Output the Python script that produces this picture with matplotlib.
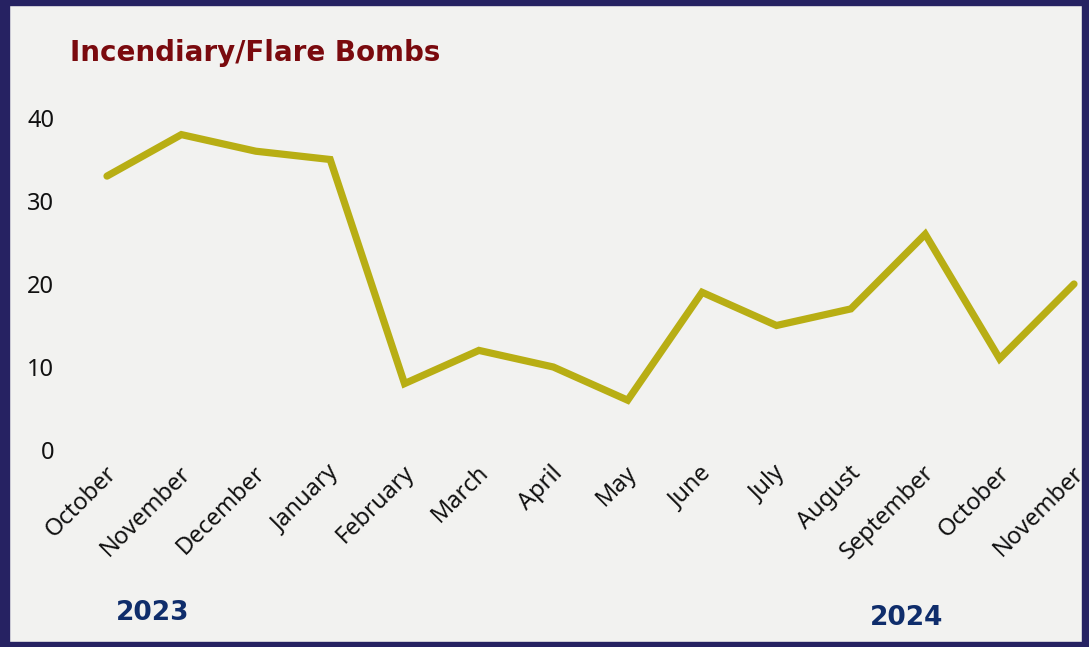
"""
Incendiary/Flare Bombs monthly count, Oct 2023 - Nov 2024.
"""

import matplotlib
matplotlib.use("Agg")
import matplotlib.pyplot as plt
import matplotlib.transforms as mtransforms
from matplotlib.patches import Rectangle

months = ["October", "November", "December", "January", "February", "March",
          "April", "May", "June", "July", "August", "September", "October",
          "November"]
counts = [33, 38, 36, 35, 8, 12, 10, 6, 19, 15, 17, 26, 11, 20]
y_ticks = [0, 10, 20, 30, 40]

plt.rcParams["font.family"] = ["Noto Sans", "DejaVu Sans"]
bold_font = dict(family=["DejaVu Sans"], fontweight="bold")

W, H = 1089, 647
fig = plt.figure(figsize=(W / 100, H / 100), dpi=100)
fig.patch.set_facecolor("#f2f2f0")

# frame (left side is thicker, as in the original)
navy = "#262262"
for x0, y0, w, h in [(0, 0, 9, H), (W - 7, 0, 7, H), (0, 0, W, 5), (0, H - 5, W, 5)]:
    fig.patches.append(Rectangle((x0 / W, 1 - (y0 + h) / H), w / W, h / H,
                                 transform=fig.transFigure, color=navy,
                                 zorder=10))

ax = fig.add_axes([107 / W, 1 - 450 / H, (1074 - 107) / W, (450 - 118) / H])
ax.set_facecolor("none")

x = range(len(months))
ax.plot(x, counts, color="#b8ae14", linewidth=5.2, solid_capstyle="round",
        solid_joinstyle="miter", clip_on=False)

ax.set_xlim(0, len(months) - 1)
ax.set_ylim(0, 40)
for s in ax.spines.values():
    s.set_visible(False)

ax.set_yticks(y_ticks)
ax.tick_params(axis="y", length=0, pad=38, labelsize=17, labelcolor="#111111")
ax.set_xticks(list(x))
ax.set_xticklabels(months, rotation=45, ha="right", va="center",
                   rotation_mode="anchor", fontsize=17, color="#111111")
ax.tick_params(axis="x", length=0, pad=14)
offset = mtransforms.ScaledTranslation(0.06, 0, fig.dpi_scale_trans)
for lbl in ax.get_xticklabels():
    lbl.set_transform(lbl.get_transform() + offset)

fig.text(70 / W, 1 - 53 / H, "Incendiary/Flare Bombs", fontsize=20,
         color="#7a0a0e", ha="left", va="center", **bold_font)
fig.text(153 / W, 1 - 613 / H, "2023", fontsize=19, color="#0f2d6b",
         ha="center", va="center", **bold_font)
fig.text(907 / W, 1 - 618 / H, "2024", fontsize=19, color="#0f2d6b",
         ha="center", va="center", **bold_font)

fig.savefig("out.png", dpi=100, facecolor=fig.get_facecolor())
